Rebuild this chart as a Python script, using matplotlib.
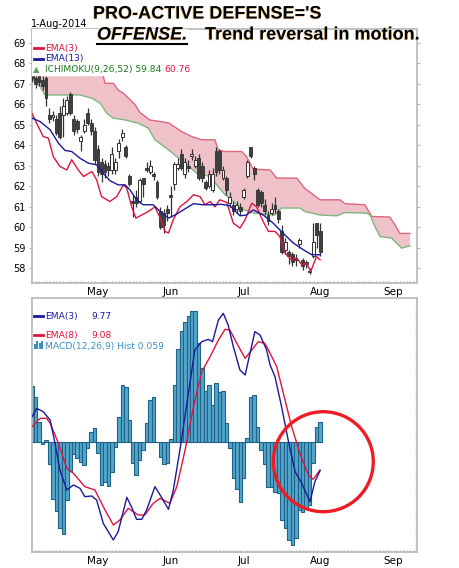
import numpy as np
import matplotlib
matplotlib.use("Agg")
import matplotlib.pyplot as plt
import matplotlib.patheffects as pe
from matplotlib.patches import Ellipse, Rectangle

# daily candles (trading day index 0 = early April 2014, 83 = 1-Aug-2014)
opens = [67.6, 67.3, 67.4, 67.2, 67.3, 65.5, 65.4, 65.3, 65.6, 65.5, 65.6, 66.5, 65.3, 65.2, 64.2, 64.7,
         65.6, 65.1, 64.7, 63.8, 63.2, 63.1, 63.0, 62.8, 62.8, 63.7, 64.4, 63.9, 62.5, 61.3, 61.5, 61.3,
         62.4, 62.9, 62.7, 62.6, 62.2, 60.8, 60.7, 60.9, 61.6, 62.1, 62.9, 63.6, 62.6, 63.0, 63.5, 63.0,
         63.4, 63.0, 62.2, 62.0, 61.8, 63.7, 63.7, 62.4, 62.4, 61.2, 61.1, 60.9, 61.0, 61.5, 62.5, 63.9,
         62.9, 61.8, 61.7, 61.1, 60.6, 60.7, 61.1, 60.8, 59.8, 58.9, 58.8, 58.7, 58.5, 59.2, 58.4, 58.3,
         57.8, 58.6, 60.2, 59.8]
closes = [67.3, 67.0, 67.1, 66.9, 66.3, 65.3, 65.5, 64.6, 64.4, 65.9, 66.2, 65.6, 64.7, 64.8, 64.4, 65.0,
          65.1, 64.7, 63.3, 62.7, 62.6, 62.7, 62.8, 63.6, 63.2, 64.1, 64.6, 63.5, 62.1, 61.2, 61.2, 62.3,
          62.1, 62.8, 63.0, 62.5, 61.5, 60.0, 60.1, 60.7, 61.5, 63.1, 63.1, 62.9, 63.2, 62.9, 63.6, 63.3,
          62.4, 62.4, 61.9, 62.6, 62.6, 62.7, 62.8, 62.8, 61.8, 61.5, 60.8, 61.1, 60.8, 61.8, 63.2, 63.5,
          62.6, 61.1, 61.2, 60.8, 60.3, 60.9, 60.9, 60.4, 58.8, 59.3, 58.6, 58.3, 58.4, 59.4, 58.1, 58.2,
          57.85, 59.3, 59.6, 58.8]
highs = [67.8, 67.5, 67.6, 67.4, 67.4, 65.8, 65.7, 65.5, 65.9, 66.3, 66.4, 66.6, 65.5, 65.3, 64.5, 65.3,
         65.8, 65.3, 64.9, 64.0, 63.4, 63.3, 63.2, 63.9, 63.4, 64.3, 64.8, 64.0, 62.6, 61.6, 61.8, 62.4,
         62.4, 63.2, 63.3, 62.7, 62.3, 61.0, 60.9, 61.1, 62.0, 63.2, 63.4, 63.8, 63.4, 63.3, 63.8, 63.5,
         63.6, 63.2, 62.3, 62.8, 62.9, 63.9, 63.8, 63.0, 62.5, 61.7, 61.3, 61.3, 61.2, 61.9, 63.3, 63.9,
         63.0, 61.9, 61.8, 61.4, 60.8, 61.2, 61.5, 60.9, 60.1, 59.5, 58.9, 58.8, 58.7, 59.5, 58.5, 58.4,
         58.0, 60.2, 60.2, 60.2]
lows = [67.1, 66.8, 66.9, 66.7, 65.9, 65.1, 65.2, 64.5, 64.3, 64.4, 65.5, 65.5, 64.5, 64.6, 63.7, 64.6,
        65.0, 64.5, 63.1, 62.5, 62.2, 62.4, 62.5, 62.6, 62.6, 63.4, 64.2, 63.4, 62.0, 60.5, 61.0, 61.2,
        61.5, 62.7, 62.6, 62.3, 61.4, 59.9, 59.7, 60.3, 60.5, 61.8, 62.8, 62.8, 62.4, 62.7, 63.3, 62.9,
        62.3, 62.2, 61.8, 61.9, 61.7, 62.5, 62.6, 62.3, 61.6, 61.0, 60.6, 60.7, 60.6, 61.4, 62.4, 63.4,
        62.3, 61.0, 61.0, 60.6, 60.1, 60.6, 60.7, 60.2, 58.7, 58.7, 58.2, 58.1, 58.1, 59.0, 57.9, 58.0,
        57.7, 58.5, 59.0, 58.6]

# EMA overlays (day index, price)
ema3_days = [0, 1.3, 3.2, 4.7, 6.1, 8, 10, 11.4, 13.3, 14.8, 17.2, 18.6, 20, 22.4, 24.4, 26.3, 27.3, 28.7,
             29.9, 31.6, 33.5, 35.4, 36.9, 38.3, 39.3, 40.7, 42.6, 44.6, 46.5, 48.4, 49.8, 51.3, 52.7,
             54.1, 56.1, 58, 59.9, 61.4, 63.3, 64.7, 66.6, 68.1, 70, 71.4, 72.9, 74.8, 76.3, 77.7, 79.1,
             80.3, 82, 83]
ema3 = [65.54, 65.08, 64.43, 64.35, 63.45, 62.97, 62.8, 63.3, 62.8, 62.48, 62.72, 62.32, 61.5, 61.26,
        61.5, 62.07, 61.9, 61.0, 60.45, 60.6, 60.77, 61.0, 60.45, 59.8, 59.72, 60.37, 61.0, 61.26, 61.59,
        61.5, 61.1, 61.26, 61.0, 61.34, 61.22, 60.2, 59.96, 60.37, 61.18, 61.0, 60.28, 59.8, 59.8, 59.55,
        58.74, 58.41, 58.5, 58.17, 58.25, 57.85, 58.57, 58.41]
ema13_days = [0, 2.3, 5.2, 7.6, 9.5, 11.4, 13.8, 16.2, 18.6, 20.5, 22.4, 24.8, 26.8, 28.2, 30.1, 32, 34.9,
              36.9, 39.3, 41.2, 43.6, 46.5, 49.3, 52.2, 54.6, 57, 59.9, 61.8, 63.7, 66.6, 69.5, 72.4,
              75.3, 78.2, 80.6, 83]
ema13 = [65.33, 65.16, 64.76, 64.1, 63.75, 63.7, 63.37, 63.13, 63.05, 62.64, 62.28, 62.07, 62.07, 61.83,
         61.34, 61.1, 61.1, 60.77, 60.45, 60.6, 60.85, 61.15, 61.1, 61.1, 61.12, 61.05, 60.56, 60.6,
         60.85, 60.6, 60.2, 59.7, 59.23, 58.9, 58.66, 58.66]

# Ichimoku cloud edges, shifted 26 days ahead
span_b_days = [0, 13.8, 19, 20.1, 21, 23.4, 24.8, 26.3, 27.3, 29.7, 31.1, 33.9, 39.3, 40.2, 43.1, 46,
               48.9, 52.7, 53.6, 55.6, 60.4, 61.8, 63.7, 68.6, 70.5, 76.3, 78.6, 83, 88.7, 90.2, 95.9,
               97.9, 103.1, 104.6, 106, 108.9]
span_b = [68.6, 68.4, 68.0, 67.68, 67.03, 67.03, 66.7, 66.55, 66.38, 65.98, 65.6, 65.24, 65.1, 65.0,
          64.67, 64.43, 64.27, 64.27, 63.78, 63.7, 63.7, 63.45, 62.84, 62.8, 62.4, 62.4, 61.9, 61.34,
          61.34, 61.15, 61.1, 60.53, 60.5, 60.12, 59.7, 59.7]
span_a_days = [0, 2.3, 3.7, 13.8, 17.2, 19.6, 21.5, 23.4, 26.8, 30.6, 33.5, 35.4, 39.3, 41.7, 44.1,
               47.4, 51.3, 53.2, 55.6, 57, 59.9, 63.7, 70, 71.9, 77.2, 78.6, 83, 87.8, 90.2, 96.4,
               97.4, 98.8, 100.3, 103.6, 106.5, 108.9]
span_a = [67.28, 66.87, 66.46, 66.46, 66.3, 66.06, 65.57, 65.33, 65.24, 65.08, 64.84, 64.27, 63.78,
          63.45, 63.13, 62.64, 62.48, 62.07, 61.59, 61.42, 60.94, 60.69, 60.6, 60.94, 60.94, 60.77,
          60.6, 60.56, 60.72, 60.69, 60.6, 60.04, 59.55, 59.47, 58.98, 59.1]

# MACD histogram, one bar per day
macd_hist = [0.167, 0.135, 0.06, -0.007, 0.005, -0.067, -0.173, -0.207, -0.26, -0.277, -0.175, -0.088,
             -0.038, -0.05, -0.062, -0.07, -0.02, 0.03, 0.04, -0.033, -0.13, -0.12, -0.133, -0.09,
             -0.015, 0.075, 0.17, 0.165, 0.065, -0.063, -0.1, -0.055, -0.025, 0.055, 0.125, 0.133,
             0.0, -0.045, -0.068, -0.063, 0.007, 0.17, 0.277, 0.332, 0.358, 0.377, 0.392, 0.392, 0.297,
             0.222, 0.153, 0.17, 0.11, 0.175, 0.15, 0.153, 0.057, -0.02, -0.11, -0.143, -0.18, -0.11,
             0.012, 0.135, 0.14, 0.045, -0.025, -0.067, -0.135, -0.135, -0.15, -0.154, -0.235, -0.26,
             -0.295, -0.31, -0.29, -0.205, -0.21, -0.2, -0.19, -0.065, 0.045, 0.06]

macd_ema3_days = [0, 1.3, 3.2, 5.2, 6.6, 8, 10, 11.9, 13.8, 15.2, 17.2, 18.6, 20.5, 23.4, 24.8, 27.3,
                  28.7, 30.1, 31.6, 33, 35.4, 36.9, 39.3, 40.7, 42.6, 46.9, 48.9, 50.8, 52, 53.7, 55.1,
                  56.5, 58, 59.9, 61.4, 62.8, 64.2, 65.7, 67.6, 68.6, 70, 71.9, 73.8, 75.8, 77.7, 80.1,
                  81.5, 83]
macd_ema3 = [0.075, 0.1, 0.09, 0.065, -0.005, -0.085, -0.145, -0.13, -0.14, -0.165, -0.163, -0.175,
             -0.245, -0.295, -0.27, -0.167, -0.197, -0.233, -0.233, -0.205, -0.135, -0.16, -0.203,
             -0.145, -0.025, 0.275, 0.3, 0.307, 0.3, 0.365, 0.385, 0.35, 0.285, 0.215, 0.2, 0.265,
             0.33, 0.32, 0.275, 0.23, 0.195, 0.105, 0.005, -0.09, -0.125, -0.18, -0.12, -0.087]
macd_ema8_days = [0, 2.3, 4.2, 5.2, 7.6, 10, 11.9, 15.2, 18.1, 20.5, 23.4, 25.3, 27.7, 30.6, 32.5, 34.9,
                  36.9, 39.7, 41.7, 44.1, 46.5, 48.9, 51.3, 53.7, 55.6, 57, 59, 61.4, 63.3, 65.2, 67.1,
                  68.6, 70.5, 72.9, 74.8, 77.2, 79.6, 81, 83]
macd_ema8 = [0.045, 0.07, 0.07, 0.055, -0.005, -0.08, -0.095, -0.135, -0.145, -0.195, -0.25, -0.235,
             -0.2, -0.22, -0.22, -0.185, -0.17, -0.185, -0.135, -0.025, 0.105, 0.21, 0.255, 0.305,
             0.337, 0.335, 0.295, 0.25, 0.275, 0.3, 0.295, 0.265, 0.225, 0.125, 0.045, -0.035, -0.1,
             -0.113, -0.085]

month_pos = [19, 40, 61, 83, 104]
month_labels = ["May", "Jun", "Jul", "Aug", "Sep"]

RED = "#dc1440"
NAVY = "#1a1a9c"
FRAME = "#b8b8b8"

W, H = 460, 568
fig = plt.figure(figsize=(W / 100, H / 100), dpi=100)
fig.patch.set_facecolor("white")


def px_box(x0, y0, x1, y1):
    return [x0 / W, 1 - y1 / H, (x1 - x0) / W, (y1 - y0) / H]


def style_frame(ax):
    for s in ax.spines.values():
        s.set_color(FRAME)
        s.set_linewidth(1.2)
    ax.set_xlim(-0.15, 110.85)
    ax.set_xticks(month_pos)
    ax.set_xticklabels(month_labels, fontsize=7.5)
    ax.set_xticks(np.arange(0, 111, 1), minor=True)
    ax.tick_params(axis="x", which="major", length=0, pad=3)
    ax.tick_params(axis="x", which="minor", direction="in", length=1.5, color=FRAME, width=1)


ax1 = fig.add_axes(px_box(31.6, 29, 416.7, 283))
ax2 = fig.add_axes(px_box(31.6, 298, 416.7, 552))

# ---- price panel
days = np.arange(len(closes))
o = np.array(opens)
c = np.array(closes)
up = c >= o
ax1.fill(span_b_days + span_a_days[::-1], span_b + span_a[::-1], color="#efc2ca", lw=0, zorder=1)
ax1.plot(span_b_days, span_b, color="#e0657d", lw=1.0, zorder=2)
ax1.plot(span_a_days, span_a, color="#7cb87c", lw=1.0, zorder=2)

ax1.vlines(days, lows, highs, color="#333333", lw=0.9, zorder=3)
bottoms = np.minimum(o, c)
heights = np.maximum(np.abs(c - o), 0.04)
ax1.bar(days[~up], heights[~up], bottom=bottoms[~up], width=0.82, color="#404040",
        edgecolor="#303030", lw=0.6, zorder=4)
ax1.bar(days[up], heights[up], bottom=bottoms[up], width=0.82, color="white",
        edgecolor="#303030", lw=0.7, zorder=4)

ax1.plot(ema3_days, ema3, color=RED, lw=1.0, zorder=5)
ax1.plot(ema13_days, ema13, color=NAVY, lw=1.0, zorder=5)

ax1.set_ylim(57.28, 69.68)
ax1.set_yticks(range(58, 70))
ax1.tick_params(axis="y", which="major", labelsize=7, length=2, color=FRAME, pad=2,
                right=True, labelright=False)
style_frame(ax1)

# legend block (white box hides the cloud behind it)
ax1.add_patch(Rectangle((0, (283 - 75) / 254), (186 - 31.6) / 385.1, 1, transform=ax1.transAxes,
                        color="white", zorder=6, clip_on=True))
leg_fs = 6.6
for yy, col, txt in [(0.925, RED, "EMA(3)"), (0.882, NAVY, "EMA(13)")]:
    ax1.plot([0.005, 0.03], [yy, yy], color=col, lw=2, transform=ax1.transAxes, zorder=7)
    ax1.text(0.034, yy, txt, color=col, fontsize=leg_fs, va="center", transform=ax1.transAxes, zorder=7)
ax1.text(0.004, 0.839, "\u25b2", color="#5aa05a", fontsize=6, va="center", transform=ax1.transAxes, zorder=7)
t = ax1.text(0.034, 0.839, "ICHIMOKU(9,26,52) 59.84 ", color="#1e7a1e", fontsize=leg_fs, va="center",
             transform=ax1.transAxes, zorder=7)
fig.canvas.draw()
bb = t.get_window_extent().transformed(ax1.transAxes.inverted())
ax1.text(bb.x1, 0.839, "60.76", color=RED, fontsize=leg_fs, va="center", transform=ax1.transAxes, zorder=7)

# ---- MACD panel
ax2.bar(days, macd_hist, width=1.0, color="#52a6cc", edgecolor="#1f6286", lw=0.8, zorder=2)
ax2.plot(macd_ema8_days, macd_ema8, color=RED, lw=1.0, zorder=3)
ax2.plot(macd_ema3_days, macd_ema3, color=NAVY, lw=1.0, zorder=3)
ax2.set_ylim(-0.331, 0.431)
ax2.set_yticks([])
ax2.set_yticks(np.arange(-0.33, 0.43, 0.01), minor=True)
ax2.tick_params(axis="y", which="minor", left=False, right=True, direction="in", length=1.5, color=FRAME)
style_frame(ax2)

ax2.plot([0.005, 0.03], [0.929, 0.929], color=NAVY, lw=2, transform=ax2.transAxes)
ax2.text(0.034, 0.929, "EMA(3)", color=NAVY, fontsize=leg_fs, va="center", transform=ax2.transAxes)
ax2.text(0.154, 0.929, "9.77", color=NAVY, fontsize=leg_fs, va="center", transform=ax2.transAxes)
ax2.plot([0.005, 0.03], [0.854, 0.854], color=RED, lw=2, transform=ax2.transAxes)
ax2.text(0.034, 0.854, "EMA(8)", color=RED, fontsize=leg_fs, va="center", transform=ax2.transAxes)
ax2.text(0.154, 0.854, "9.08", color=RED, fontsize=leg_fs, va="center", transform=ax2.transAxes)
for i, hgt in enumerate([0.6, 1.0, 0.8, 1.0]):
    ax2.add_patch(Rectangle((0.006 + i * 0.0062, 0.800), 0.005, 0.03 * hgt, transform=ax2.transAxes,
                            color="#3c8fc0", lw=0))
ax2.text(0.034, 0.811, "MACD(12,26,9) Hist 0.059", color="#3c8fc0", fontsize=leg_fs, va="center",
         transform=ax2.transAxes)

# ---- titles
fig.text(31 / W, 1 - 24 / H, "1-Aug-2014", fontsize=7, va="center", ha="left")
shadow = [pe.withSimplePatchShadow(offset=(-0.6, -0.5), shadow_rgbFace="#e8a030", alpha=0.55)]
fig.text(93 / W, 1 - 14 / H, "PRO-ACTIVE DEFENSE='S", family="Liberation Sans", fontweight="bold",
         fontsize=13, va="center", path_effects=shadow)
fig.text(97 / W, 1 - 35 / H, "OFFENSE.", family="Liberation Sans", fontweight="bold", style="italic",
         fontsize=13, va="center", path_effects=shadow)
fig.add_artist(plt.Line2D([97 / W, 187 / W], [1 - 44 / H, 1 - 44 / H], color="black", lw=1.5))
fig.text(205 / W, 1 - 35 / H, "Trend reversal in motion.", family="Liberation Sans", fontweight="bold",
         fontsize=13, va="center", path_effects=shadow)

# hand-drawn highlight circle
fig.add_artist(Ellipse((323.3 / W, 1 - 461.7 / H), 100 / W, 100 / H, transform=fig.transFigure,
                       fill=False, edgecolor="#ee1c24", lw=2.4))

fig.savefig("out.png", dpi=100)
